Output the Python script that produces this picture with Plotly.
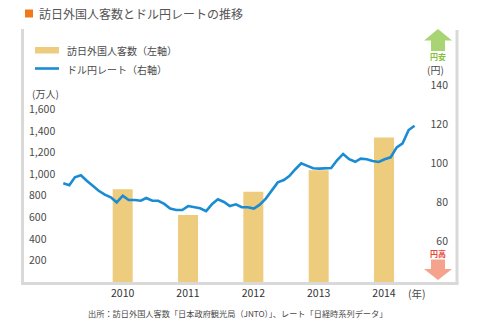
import pandas as pd
import plotly.graph_objects as go

# Annual inbound visitors to Japan (10,000 people)
years = [2010, 2011, 2012, 2013, 2014]
visitors = [861, 622, 836, 1036, 1341]

# Monthly USD/JPY rate, Jan 2010 - Dec 2014
months = pd.date_range("2010-01-01", periods=60, freq="MS")
usdjpy = [
    89.8, 88.8, 92.9, 93.9, 91.1, 88.4, 86.0, 84.0, 82.7, 80.1, 83.5, 81.3,
    81.3, 80.9, 82.3, 80.9, 80.9, 79.3, 76.9, 76.2, 76.2, 78.2, 77.6, 77.1,
    75.6, 79.3, 81.7, 80.3, 78.2, 79.1, 77.6, 77.6, 76.9, 78.9, 82.0, 86.0,
    90.3, 91.5, 93.5, 97.0, 100.0, 98.7, 97.5, 97.3, 97.3, 97.6, 101.7, 104.8,
    102.1, 100.8, 102.4, 102.1, 101.2, 100.7, 102.1, 103.1, 108.2, 110.2, 117.0, 119.2,
]
left_ticks = [200, 400, 600, 800, 1000, 1200, 1400, 1600]
right_ticks = [60, 80, 100, 120, 140]

W, H = 480, 323
ML, MR, MT, MB = 22, 23, 29, 41
PW, PH = W - ML - MR, H - MT - MB

BAR = "#edcc7e"
LINE = "#1b8bd3"
FRAME = "#d9d9d9"
TXT = "#4a4a4a"
FONT = "Noto Sans CJK JP"


def px(x):
    return (x - ML) / PW


def py(y):
    return (H - MB - y) / PH


def label(text, x, y, anchor="left", size=10, color=TXT):
    return dict(text=text, xref="paper", yref="paper", x=px(x), y=py(y),
                xanchor=anchor, yanchor="middle", showarrow=False,
                font=dict(size=size, color=color, family=FONT))


fig = go.Figure()
fig.add_bar(x=years, y=visitors, width=0.306, marker_color=BAR,
            marker_line_width=0, xaxis="x", yaxis="y", showlegend=False)
fig.add_scatter(x=months, y=usdjpy, mode="lines",
                line=dict(color=LINE, width=2.6),
                xaxis="x2", yaxis="y2", showlegend=False)

shapes = []
annotations = []

# frame
for x0, y0, x1, y1 in [(22.5, 29, 22.5, 284.5), (457, 30, 457, 284.5), (21, 283.5, 458.5, 283.5)]:
    shapes.append(dict(type="line", xref="paper", yref="paper",
                       x0=px(x0), y0=py(y0), x1=px(x1), y1=py(y1),
                       line=dict(color=FRAME, width=3), layer="above"))

# title marker and text
shapes.append(dict(type="rect", xref="paper", yref="paper",
                   x0=px(25), x1=px(33), y0=py(17.5), y1=py(9.5),
                   fillcolor="#f07a1a", line_width=0))
annotations.append(label("訪日外国人客数とドル円レートの推移", 37, 13.5, size=12, color="#555555"))

# legend
shapes.append(dict(type="rect", xref="paper", yref="paper",
                   x0=px(35), x1=px(59), y0=py(53.5), y1=py(47),
                   fillcolor=BAR, line_width=0))
shapes.append(dict(type="line", xref="paper", yref="paper",
                   x0=px(35), x1=px(59), y0=py(68.5), y1=py(68.5),
                   line=dict(color=LINE, width=2.6)))
annotations.append(label("訪日外国人客数（左軸）", 65, 50.5))
annotations.append(label("ドル円レート（右軸）", 65, 69))

# axis unit labels
annotations.append(label("(万人)", 30, 93))
annotations.append(label("(円)", 446, 70, anchor="right"))
annotations.append(label("(年)", 416.5, 293, anchor="center", size=10.5))

# yen weak / yen strong arrows
up = "M {} {} L {} {} L {} {} L {} {} L {} {} L {} {} L {} {} Z".format(
    px(424), py(40.5), px(438), py(29), px(452), py(40.5), px(445), py(40.5),
    px(445), py(51), px(431), py(51), px(431), py(40.5))
down = "M {} {} L {} {} L {} {} L {} {} L {} {} L {} {} L {} {} Z".format(
    px(424), py(269), px(438), py(280), px(452), py(269), px(445), py(269),
    px(445), py(259.5), px(431), py(259.5), px(431), py(269))
shapes.append(dict(type="path", xref="paper", yref="paper", path=up,
                   fillcolor="#a9d473", line_width=0))
shapes.append(dict(type="path", xref="paper", yref="paper", path=down,
                   fillcolor="#f5a38c", line_width=0, layer="above"))
annotations.append(label("<b>円安</b>", 438, 56, anchor="center", size=8, color="#86be3a"))
annotations.append(label("<b>円高</b>", 438, 253.5, anchor="center", size=8, color="#e5493a"))

# source
annotations.append(label("出所：訪日外国人客数「日本政府観光局（JNTO）」、レート「日経時系列データ」",
                         237.5, 313, anchor="center", size=8.2))

fig.update_layout(
    width=W, height=H,
    margin=dict(l=ML, r=MR, t=MT, b=MB, pad=0),
    paper_bgcolor="white", plot_bgcolor="white",
    font=dict(family=FONT, color=TXT),
    xaxis=dict(range=[2008.459, 2015.117], tickvals=years, ticks="",
               ticklabelstandoff=3,
               showline=False, showgrid=False, zeroline=False,
               tickfont=dict(size=10.5, color="#333333"), fixedrange=True),
    xaxis2=dict(overlaying="x", type="date", visible=False,
                range=["2009-06-04", "2015-07-06"]),
    yaxis=dict(range=[0, 2346], tickvals=left_ticks, tickformat=",",
               ticklabelposition="inside", ticklabelstandoff=4, ticks="",
               showline=False, showgrid=False, zeroline=False,
               tickfont=dict(size=10.5, color=TXT)),
    yaxis2=dict(overlaying="y", side="right", range=[39.43, 168.6],
                tickvals=right_ticks, ticklabelposition="inside",
                ticklabelstandoff=6, ticks="",
                showline=False, showgrid=False, zeroline=False,
                tickfont=dict(size=10.5, color=TXT)),
    shapes=shapes,
    annotations=annotations,
)

fig.write_html("out.html")
